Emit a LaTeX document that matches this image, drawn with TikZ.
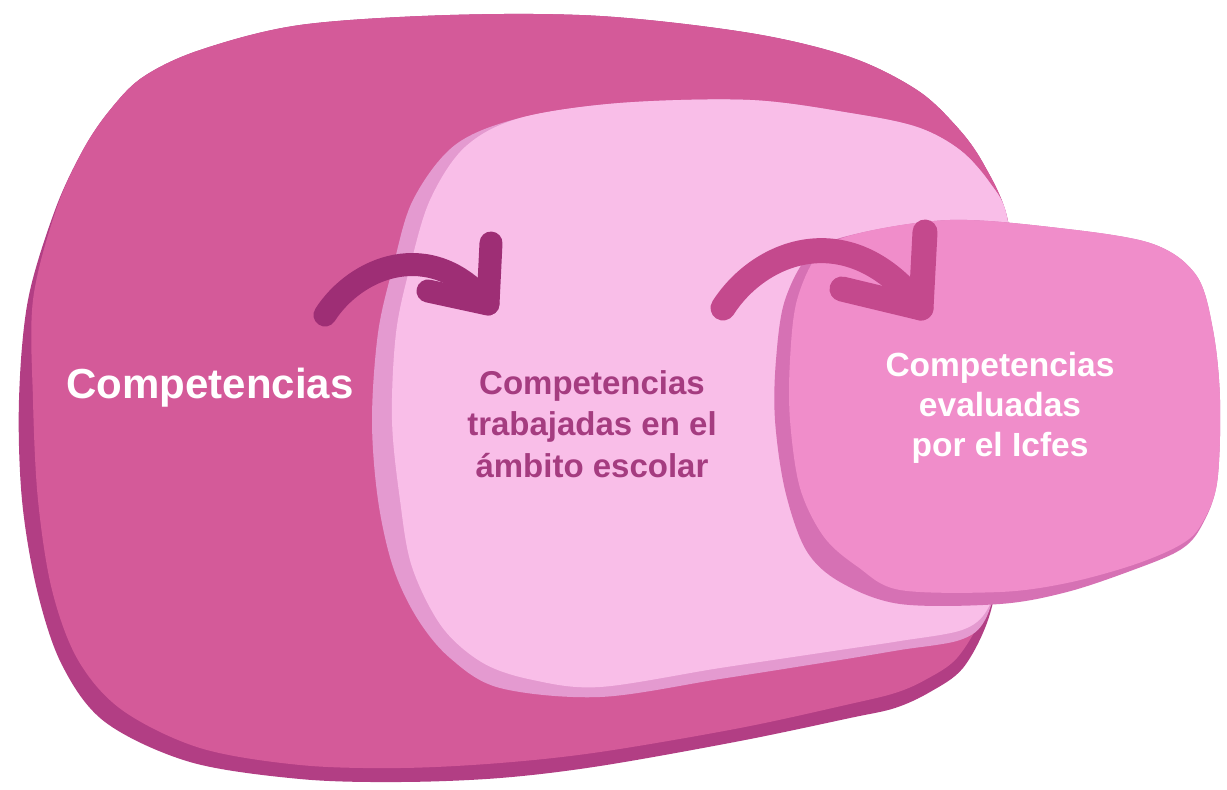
\documentclass[tikz,border=0pt]{standalone}
\usepackage{fontspec}
\setmainfont{Liberation Sans}
\definecolor{outerfill}{HTML}{D45A99}
\definecolor{outershade}{HTML}{B23E84}
\definecolor{midfill}{HTML}{F9BEE8}
\definecolor{midshade}{HTML}{E49AD0}
\definecolor{rightfill}{HTML}{F08DCA}
\definecolor{rightshade}{HTML}{D671B4}
\definecolor{arrowdark}{HTML}{9E2E75}
\definecolor{arrowmid}{HTML}{C4498D}
\definecolor{midtext}{HTML}{A53C80}
\begin{document}
\begin{tikzpicture}[x=1pt,y=-1pt,
  arrowstroke/.style={line width=23pt, line cap=round, line join=round},
  blob/.style={smooth cycle, tension=0.55},
  lbl/.style={font=\bfseries, align=center, inner sep=0pt}]
\useasboundingbox (0,0) rectangle (1227,790);
\fill[white] (0,0) rectangle (1227,790);
% ---------- outer blob ----------
\fill[outershade] plot[blob] coordinates {(300,25) (450,15) (600,16) (750,33) (850,57) (917,90) (957,127) (983,163) (1007,217) (1015,300) (1010,450) (1000,560) (988,620) (963,668) (930,692) (895,708) (850,718) (740,741) (600,766) (500,778) (400,782) (300,779) (190,762) (105,722) (62,665) (37,590) (22,500) (19,400) (28,300) (55,210) (83,150) (110,110) (143,77) (200,50)};
\fill[outerfill] plot[blob] coordinates {(300,25) (450,15) (600,16) (750,33) (850,57) (917,90) (957,127) (983,163) (1007,217) (1015,300) (1010,450) (1000,560) (984,613) (957,658) (925,680) (895,693) (850,704) (740,728) (600,752) (500,763) (400,768) (300,765) (200,748) (122,710) (78,660) (52,590) (38,500) (33,400) (33,300) (56,210) (83,150) (110,110) (143,77) (200,50)};
% ---------- middle blob ----------
\fill[midshade] plot[blob] coordinates {(520,118) (620,103) (750,100) (850,113) (917,127) (960,150) (990,183) (1007,217) (1014,300) (1010,450) (998,570) (985,620) (960,640) (900,650) (840,660) (720,679) (600,697) (500,688) (450,658) (417,618) (393,567) (378,500) (372,420) (378,333) (393,267) (413,200) (455,145)};
\fill[midfill] plot[blob] coordinates {(520,118) (620,103) (750,100) (850,113) (917,127) (960,150) (990,183) (1007,217) (1014,300) (1010,450) (998,570) (987,610) (962,630) (900,641) (840,650) (720,668) (600,687) (533,680) (483,663) (442,627) (412,567) (400,500) (392,420) (396,333) (410,267) (430,200) (465,147)};
% ---------- right blob ----------
\fill[rightshade] plot[blob] coordinates {(860,233) (950,220) (1050,227) (1150,243) (1196,275) (1213,330) (1220,400) (1217,483) (1201,527) (1180,550) (1133,570) (1067,592) (1000,604) (900,604) (840,582) (806,550) (785,490) (775,420) (776,360) (785,300) (812,252)};
\fill[rightfill] plot[blob] coordinates {(860,233) (950,220) (1050,227) (1150,243) (1196,275) (1213,330) (1220,400) (1217,483) (1201,525) (1180,545) (1133,565) (1067,583) (1000,592) (900,590) (858,567) (824,537) (800,488) (790,420) (790,360) (797,300) (820,252)};
% ---------- arrows ----------
\coordinate (a1tail) at (325,315);
\coordinate (a1tip) at (488,304);
\coordinate (a1up) at (491,243);
\coordinate (a1left) at (428,291);
\draw[arrowstroke, arrowdark] (a1tail) .. controls (355,268) and (430,235) .. (a1tip);
\draw[arrowstroke, arrowdark] (a1up) -- (a1tip) -- (a1left);
\coordinate (a2tail) at (723,308);
\coordinate (a2tip) at (921,308);
\coordinate (a2up) at (925,232);
\coordinate (a2left) at (842,289);
\draw[arrowstroke, arrowmid, line width=25pt] (a2tail) .. controls (760,250) and (850,215) .. (a2tip);
\draw[arrowstroke, arrowmid, line width=25pt] (a2up) -- (a2tip) -- (a2left);
% ---------- labels ----------
\node[lbl, text=white, font=\bfseries\fontsize{42}{48}\selectfont] (comp) at (210,388) {Competencias};
\node[lbl, text=midtext, font=\bfseries\fontsize{33}{41.5}\selectfont] (school) at (592,424) {Competencias\\trabajadas en el\\ámbito escolar};
\node[lbl, text=white, font=\bfseries\fontsize{33.5}{40}\selectfont] (icfes) at (1000,408) {Competencias\\evaluadas\\por el Icfes};
\end{tikzpicture}
\end{document}
